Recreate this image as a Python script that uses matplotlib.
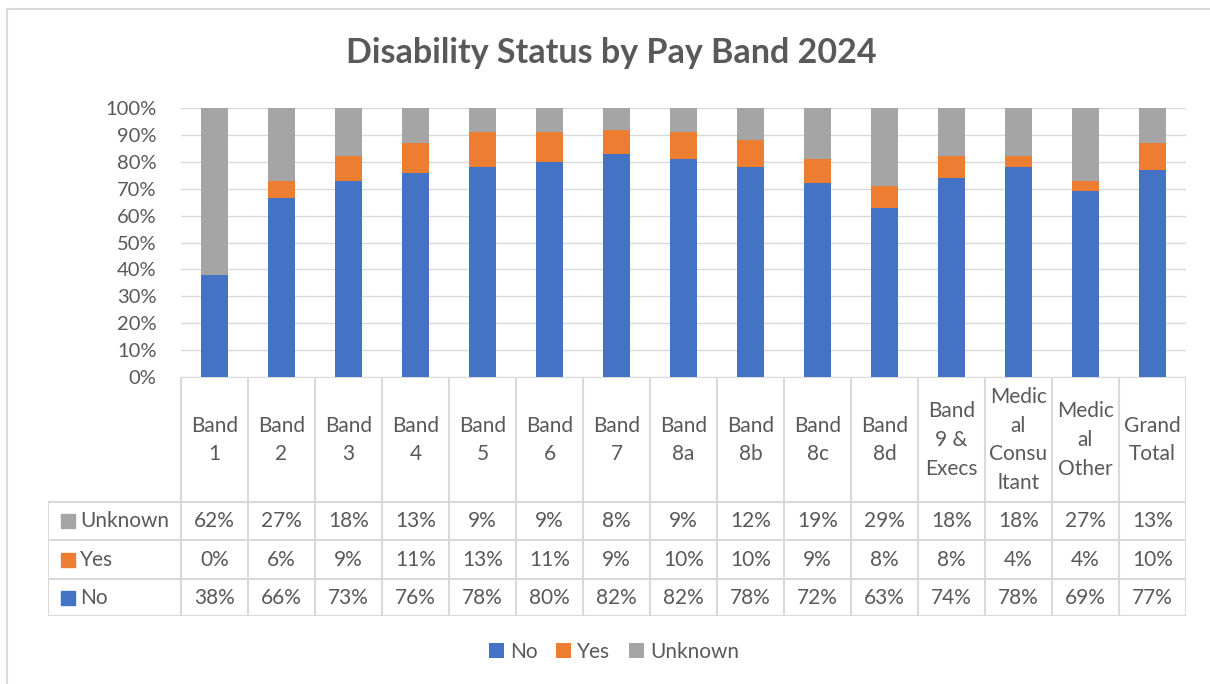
import numpy as np
import matplotlib
matplotlib.use("Agg")
import matplotlib.pyplot as plt
from matplotlib.patches import Rectangle

plt.rcParams["font.family"] = ["Lato", "DejaVu Sans"]

# Data: percentages per pay band
bands = [
    "Band\n1", "Band\n2", "Band\n3", "Band\n4", "Band\n5", "Band\n6", "Band\n7",
    "Band\n8a", "Band\n8b", "Band\n8c", "Band\n8d", "Band\n9 &\nExecs",
    "Medic\nal\nConsu\nltant", "Medic\nal\nOther", "Grand\nTotal",
]
no_pct = [38, 66, 73, 76, 78, 80, 82, 82, 78, 72, 63, 74, 78, 69, 77]
yes_pct = [0, 6, 9, 11, 13, 11, 9, 10, 10, 9, 8, 8, 4, 4, 10]
unknown_pct = [62, 27, 18, 13, 9, 9, 8, 9, 12, 19, 29, 18, 18, 27, 13]

series_names = ["No", "Yes", "Unknown"]
colors = ["#4472C4", "#ED7D31", "#A5A5A5"]
text_col = "#595959"
grid_col = "#D9D9D9"
fs = 15

W, H = 1210, 684
fig = plt.figure(figsize=(W / 100, H / 100), dpi=100)


def fbox(x0, y0, x1, y1):
    # pixel box (top-left origin) -> figure fraction rect
    return [x0 / W, 1 - y1 / H, (x1 - x0) / W, (y1 - y0) / H]


# 100% stacked values
vals = np.array([no_pct, yes_pct, unknown_pct], dtype=float)
vals = vals / vals.sum(axis=0) * 100
x = np.arange(len(bands))

ax = fig.add_axes(fbox(181, 108, 1186, 377))
bottom = np.zeros(len(bands))
for v, c, name in zip(vals, colors, series_names):
    ax.bar(x, v, bottom=bottom, width=0.4, color=c, label=name, zorder=3)
    bottom += v
ax.set_xlim(-0.5, len(bands) - 0.5)
ax.set_ylim(0, 100)
ax.set_yticks(range(0, 101, 10))
ax.set_yticklabels([f"{t}%" for t in range(0, 101, 10)], fontsize=14.5, color=text_col)
ax.tick_params(axis="y", length=0, pad=17.5)
ax.set_xticks([])
ax.grid(axis="y", color=grid_col, linewidth=1, zorder=0)
for s in ax.spines.values():
    s.set_visible(False)

# Data table below the plot
lead = 133 / 67  # width of the legend-key column in category units
tab = fig.add_axes(fbox(48, 377, 1186, 616))
tab.set_xlim(-0.5 - lead, len(bands) - 0.5)
tab.set_ylim(616, 377)
tab.axis("off")
row_edges = [377, 502, 540, 579, 616]
lw = 1.5
# horizontal lines
tab.plot([-0.5, len(bands) - 0.5], [377, 377], color=grid_col, lw=lw)
for y in row_edges[1:]:
    tab.plot([-0.5 - lead, len(bands) - 0.5], [y, y], color=grid_col, lw=lw)
# vertical lines
for i in range(len(bands) + 1):
    tab.plot([i - 0.5, i - 0.5], [377, 616], color=grid_col, lw=lw)
tab.plot([-0.5 - lead] * 2, [502, 616], color=grid_col, lw=lw)

for i, b in enumerate(bands):
    tab.text(i, 440, b, ha="center", va="center", fontsize=fs, color=text_col,
             linespacing=1.55)

rows = [("Unknown", unknown_pct, colors[2]), ("Yes", yes_pct, colors[1]), ("No", no_pct, colors[0])]
for r, (name, data, c) in enumerate(rows):
    yc = (row_edges[r + 1] + row_edges[r + 2]) / 2
    kx = -0.5 - lead + 13 / 67
    tab.add_patch(Rectangle((kx, yc - 7), 14 / 67, 14, color=c))
    tab.text(kx + 19 / 67, yc, name, ha="left", va="center", fontsize=fs, color=text_col)
    for i, v in enumerate(data):
        tab.text(i, yc, f"{v}%", ha="center", va="center", fontsize=fs, color=text_col)

fig.text(611 / W, 1 - 53 / H, "Disability Status by Pay Band 2024", ha="center", va="center",
         fontsize=24.5, fontweight="bold", color=text_col)

handles, labels = ax.get_legend_handles_labels()
fig.legend(handles, labels, loc="center", bbox_to_anchor=(614 / W, 1 - 652 / H), ncol=3,
           frameon=False, fontsize=fs, labelcolor=text_col, handlelength=0.7,
           handleheight=0.7, handletextpad=0.3, columnspacing=0.9)

# outer chart frame
fig.add_artist(plt.Line2D([7 / W, 1], [1 - 9 / H, 1 - 9 / H], color=grid_col, lw=1.5))
fig.add_artist(plt.Line2D([7 / W, 7 / W], [0, 1 - 9 / H], color=grid_col, lw=1.5))

fig.savefig("out.png", dpi=100)
